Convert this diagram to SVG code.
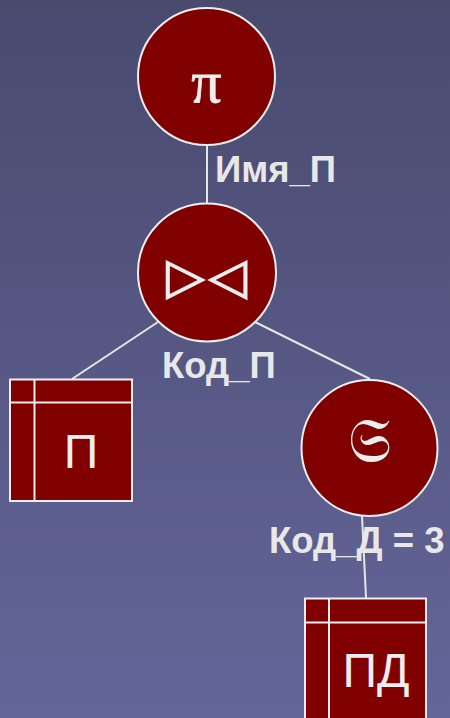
<svg xmlns="http://www.w3.org/2000/svg" width="450" height="718" viewBox="0 0 450 718">
<defs>
<linearGradient id="bg" x1="0" y1="0" x2="0" y2="1">
<stop offset="0" stop-color="#494a6e"/>
<stop offset="1" stop-color="#64669a"/>
</linearGradient>
<style>
.op{fill:#800000;stroke:#eeeeee;stroke-width:2}
.tb{fill:#800000;stroke:#eeeeee;stroke-width:2}
.tl{stroke:#eeeeee;stroke-width:2;fill:none}
.edge{stroke:#e6e6e6;stroke-width:2;fill:none}
.lbl{font-family:"Liberation Sans",Arial,sans-serif;font-weight:bold;font-size:36.5px;fill:#e8e8e8}
.tname{font-family:"Liberation Sans",Arial,sans-serif;font-size:48px;fill:#eeeeee;text-anchor:middle}
.sym{fill:#eeeeee;text-anchor:middle}
</style>
</defs>
<rect x="0" y="0" width="450" height="718" fill="url(#bg)"/>
<g id="connectors">
<line class="edge" x1="207" y1="145" x2="207" y2="205"/>
<line class="edge" x1="158" y1="322" x2="72" y2="379"/>
<line class="edge" x1="255" y1="322" x2="370" y2="379"/>
<line class="edge" x1="362" y1="516" x2="366" y2="598"/>
</g>
<g id="labels">
<text class="lbl" x="215" y="182">Имя_П</text>
<text class="lbl" x="162" y="378">Код_П</text>
<text class="lbl" x="269" y="553">Код_Д = 3</text>
</g>
<g id="projection">
<circle class="op" cx="206.5" cy="76.5" r="68.5"/>
<text class="sym" x="206.5" y="102" font-family="'Liberation Serif','DejaVu Serif',serif" font-size="60" stroke="#eeeeee" stroke-width="0.8">π</text>
</g>
<g id="join">
<circle class="op" cx="207" cy="272.5" r="69"/>
<text class="sym" y="293" font-family="'DejaVu Sans',sans-serif" font-size="50" stroke="#eeeeee" stroke-width="1.2"><tspan x="185.5">▷</tspan><tspan x="228">◁</tspan></text>
</g>
<g id="selection">
<circle class="op" cx="369.5" cy="448" r="68"/>
<text class="sym" x="369.5" y="462" font-family="'DejaVu Serif','DejaVu Sans','Noto Sans',serif" font-size="62">𝔖</text>
</g>
<g id="table-P">
<rect class="tb" x="10" y="379.5" width="122" height="121.5"/>
<line class="tl" x1="34.5" y1="379.5" x2="34.5" y2="501"/>
<line class="tl" x1="10" y1="402.5" x2="132" y2="402.5"/>
<text class="tname" x="81" y="468">П</text>
</g>
<g id="table-PD">
<rect class="tb" x="305" y="598.5" width="121" height="122"/>
<line class="tl" x1="329" y1="598.5" x2="329" y2="720"/>
<line class="tl" x1="305" y1="622.5" x2="426" y2="622.5"/>
<text class="tname" x="376" y="687">ПД</text>
</g>
</svg>
